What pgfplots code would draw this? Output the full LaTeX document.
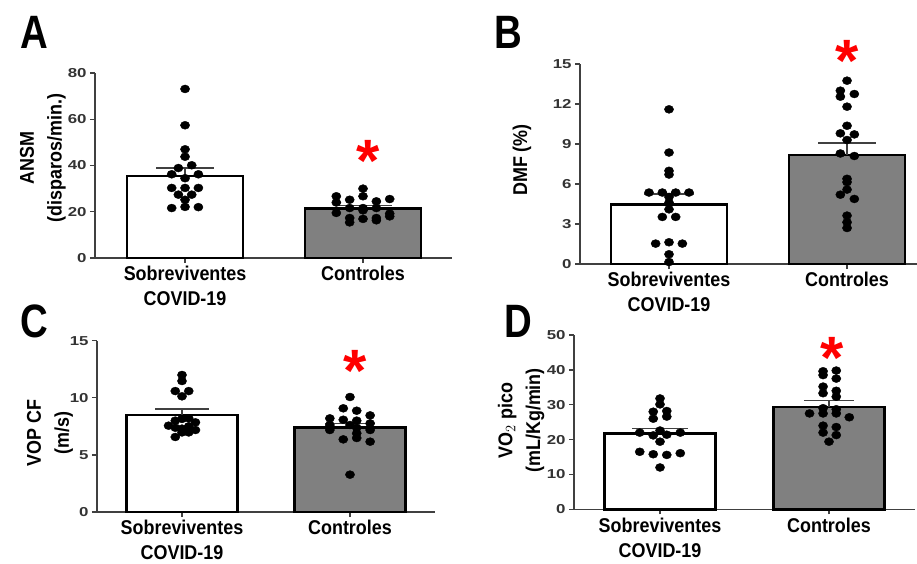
\documentclass[border=0pt]{standalone}
\usepackage{pgfplots}
\pgfplotsset{compat=1.18}
\usepackage{fontspec}
\setmainfont{Liberation Sans}[FakeStretch=0.9]
\newfontfamily\tickfont{Liberation Sans}[FakeStretch=1.3]
\newfontfamily\panelfont{Liberation Sans}[FakeStretch=0.82]
\newfontfamily\astfont{Liberation Sans}
\definecolor{axgray}{HTML}{404040}
\definecolor{bargray}{HTML}{808080}
\tikzset{sigstar/.style={text=red, inner sep=0pt, anchor=north, font=\astfont\fontsize{60}{60}\bfseries\selectfont}}
\pgfplotsset{
  panel/.style={
    scale only axis,
    anchor=south west,
    axis lines=left,
    axis line style={-, axgray, line width=1.3bp},
    tick style={axgray, line width=1.3bp},
    tick align=outside,
    major tick length=5bp,
    xtick={0,1},
    xticklabels={{Sobreviventes\\COVID-19},{Controles}},
    xticklabel style={align=center, font=\fontsize{20}{25}\bfseries\selectfont, text=black},
    yticklabel style={font=\tickfont\fontsize{13}{13}\bfseries\selectfont, text=black!80},
    /pgf/number format/assume math mode=true,
    ylabel style={align=center, font=\fontsize{20}{28}\bfseries\selectfont, anchor=center},
    clip=false,
  },
  whitebar/.style={ybar, bar shift=0pt, fill=white, draw=black, line width=2.6bp},
  graybar/.style={ybar, bar shift=0pt, fill=bargray, draw=black, line width=2.6bp},
  dots/.style={only marks, mark=*, mark size=4bp, black, mark options={xscale=1.15, fill=black, draw=black}},
  sem/.style={black!75, line width=1.6bp, mark=none, error bars/.cd, y dir=plus, y explicit,
     error bar style={line width=1.6bp, black!75},
     error mark options={rotate=90, mark size=#1, line width=1.6bp, black!75}},
}
\begin{document}
\begin{tikzpicture}
\path[use as bounding box] (0bp,0bp) rectangle (917bp,-564bp);

% Panel A
\begin{axis}[panel, at={(95bp,-258bp)}, width=357bp, height=185bp,
  xmin=-0.506, xmax=1.5, ymin=0, ymax=80, ytick={0,20,40,60,80},
  ylabel={ANSM\\(disparos/min.)},
  ylabel style={at={(axis description cs:-0.146,0.54)}}]
\addplot[whitebar, bar width=0.652] coordinates {(0,35.5)};
\addplot[graybar, bar width=0.652] coordinates {(1,21.3)};
\addplot[dots] coordinates {
(0,73.1) (0,57.4) (0,47.0) (0,43.8) (0.0375,40.1) (-0.0375,38.9) (-0.075,36.2) (0.075,36.2)
(0,34.5) (-0.075,30.3) (0,30.3) (0.075,30.3) (-0.0375,27.4) (0.0375,27.4) (0,25.2)
(-0.075,21.6) (0,22.1) (0.075,22.0)};
\addplot[dots] coordinates {
(1,30.0) (0.85,26.7) (1,26.7) (1.15,25.5) (1.075,24.5) (0.925,25.2) (0.85,24.0)
(0.925,21.6) (1,21.6) (1.075,21.6) (0.85,19.5) (1,20.6) (1.15,19.2) (1.15,18.0)
(0.925,17.3) (1.075,17.3) (1,16.9) (0.925,15.4) (1.075,16.3)};
\addplot[sem=29bp] coordinates {(0,35.5) +- (0,3.5)};
\addplot[sem=29bp] coordinates {(1,21.3) +- (0,1.4)};
\node[sigstar] at (axis cs:1.03,51.0) {*};
\end{axis}

% Panel B
\begin{axis}[panel, at={(580bp,-264bp)}, width=337bp, height=200bp,
  xmin=-0.5, xmax=1.393, ymin=0, ymax=15, ytick={0,3,6,9,12,15},
  ylabel={DMF (\%)},
  ylabel style={at={(axis description cs:-0.172,0.52)}}]
\addplot[whitebar, bar width=0.652] coordinates {(0,4.48)};
\addplot[graybar, bar width=0.652] coordinates {(1,8.19)};
\addplot[dots] coordinates {
(0,11.6) (0,8.36) (0,6.99) (0,6.71) (-0.1125,5.36) (-0.0375,5.36) (0.0375,5.36) (0.1125,5.36)
(0,5.03) (0,4.6) (0,4.1) (-0.0375,3.53) (0.0375,3.53) (0,1.63) (-0.075,1.53) (0.075,1.53)
(0,0.73) (0,0.15)};
\addplot[dots] coordinates {
(1,13.75) (0.9625,13.0) (1.041,12.75) (0.9625,12.55) (1,11.8) (1,10.37) (0.9625,9.8)
(1.041,9.72) (1,9.3) (0.9625,8.29) (1.041,8.1) (1,6.39) (1,6.14) (1,5.58) (0.9625,5.2)
(1.041,4.88) (1,3.63) (1,3.13) (1,2.7)};
\addplot[sem=25bp] coordinates {(0,4.48) +- (0,0.75)};
\addplot[sem=29bp] coordinates {(1,8.19) +- (0,0.88)};
\node[sigstar] at (axis cs:1.0,16.8) {*};
\end{axis}

% Panel C
\begin{axis}[panel, at={(97bp,-512bp)}, width=338bp, height=171.3bp,
  xmin=-0.506, xmax=1.506, ymin=0, ymax=15, ytick={0,5,10,15},
  ylabel={VOP CF\\(m/s)},
  ylabel style={at={(axis description cs:-0.139,0.46)}}]
\addplot[whitebar, bar width=0.66] coordinates {(0,8.49)};
\addplot[graybar, bar width=0.66] coordinates {(1,7.38)};
\addplot[dots] coordinates {
(0,12.0) (0,11.47) (-0.04,10.59) (0.04,10.59) (0,10.13) (-0.04,8.0) (0,8.15) (0.04,8.2)
(-0.08,7.56) (0.08,7.85) (-0.04,7.38) (0.04,7.5) (0,7.3) (0.08,7.18) (0,6.97) (0.04,6.97)
(-0.04,6.57)};
\addplot[dots] coordinates {
(1,10.07) (0.96,9.08) (1.04,8.87) (1.12,8.46) (0.88,8.2) (0.96,8.08) (1.04,8.0) (1.12,7.76)
(0.88,7.62) (1,7.62) (1.04,7.38) (0.88,7.18) (1.12,7.18) (1.04,6.89) (0.96,6.36) (1.04,6.48)
(1.12,6.16) (1,3.27)};
\addplot[sem=27bp] coordinates {(0,8.49) +- (0,0.53)};
\addplot[sem=25bp] coordinates {(1,7.38) +- (0,0.38)};
\node[sigstar] at (axis cs:1.03,14.19) {*};
\end{axis}

% Panel D
\begin{axis}[panel, at={(574bp,-509.3bp)}, width=341bp, height=174.3bp,
  xmin=-0.509, xmax=1.509, ymin=0, ymax=50, ytick={0,10,20,30,40,50},
  ylabel={VO$_2$ pico\\(mL/Kg/min)},
  ylabel style={at={(axis description cs:-0.155,0.51)}}]
\addplot[whitebar, bar width=0.66] coordinates {(0,21.7)};
\addplot[graybar, bar width=0.66] coordinates {(1,29.4)};
\addplot[dots] coordinates {
(0,31.8) (0,30.1) (-0.04,28.0) (0.04,28.2) (-0.04,26.0) (0.04,26.6) (0,22.6) (-0.12,22.0)
(0.12,22.0) (-0.04,21.2) (0.04,21.4) (0,19.4) (-0.12,16.5) (0.12,16.1) (-0.04,15.8)
(0.04,15.6) (0,12.0)};
\addplot[dots] coordinates {
(0.965,39.6) (1.043,39.8) (0.965,38.5) (1.043,37.5) (0.965,35.2) (1.043,34.0) (0.965,33.3)
(1.043,32.3) (0.965,29.0) (1.043,28.7) (0.885,27.5) (0.965,27.5) (1.043,27.5) (1.12,26.4)
(0.965,24.0) (1.043,23.6) (0.965,22.0) (1.043,21.3) (1,19.4)};
\addplot[sem=28bp] coordinates {(0,21.7) +- (0,1.5)};
\addplot[sem=25bp] coordinates {(1,29.4) +- (0,1.8)};
\node[sigstar] at (axis cs:1.02,49.5) {*};
\end{axis}

\node[anchor=base west, inner sep=0pt, font=\panelfont\fontsize{47}{47}\bfseries\selectfont] at (20bp,-48bp) {A};
\node[anchor=base west, inner sep=0pt, font=\panelfont\fontsize{47}{47}\bfseries\selectfont] at (494bp,-48bp) {B};
\node[anchor=base west, inner sep=0pt, font=\panelfont\fontsize{47}{47}\bfseries\selectfont] at (20bp,-337bp) {C};
\node[anchor=base west, inner sep=0pt, font=\panelfont\fontsize{47}{47}\bfseries\selectfont] at (504bp,-337bp) {D};
\end{tikzpicture}
\end{document}
